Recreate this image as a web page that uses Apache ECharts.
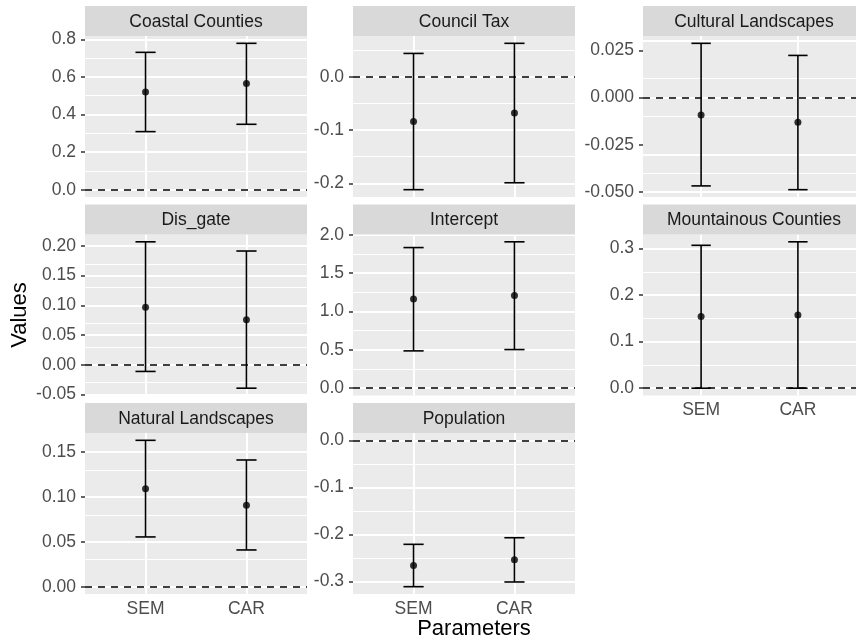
<!DOCTYPE html>
<html>
<head>
<meta charset="utf-8">
<script src="https://cdn.jsdelivr.net/npm/echarts@6/dist/echarts.min.js"></script>
<style>
html,body{margin:0;padding:0;background:#fff;}
#chart{width:856px;height:643px;}
</style>
</head>
<body>
<div id="chart"></div>
<script>
// ---- data ----
const panels = ['Coastal Counties','Council Tax','Cultural Landscapes','Dis_gate','Intercept','Mountainous Counties','Natural Landscapes','Population'];
const models = ['SEM','CAR'];
const semEst  = [0.520, -0.084, -0.0092, 0.097, 1.163, 0.154, 0.109, -0.266];
const semLow  = [0.309, -0.212, -0.0467, -0.0113, 0.486, 0.000, 0.0554, -0.311];
const semHigh = [0.731, 0.044, 0.0287, 0.207, 1.832, 0.307, 0.163, -0.221];
const carEst  = [0.565, -0.068, -0.0131, 0.0757, 1.207, 0.157, 0.0908, -0.254];
const carLow  = [0.348, -0.199, -0.0487, -0.0395, 0.503, 0.000, 0.0409, -0.301];
const carHigh = [0.779, 0.063, 0.0223, 0.1915, 1.907, 0.3145, 0.1411, -0.207];
const yTickValues = [
  [0, 0.2, 0.4, 0.6, 0.8],
  [-0.2, -0.1, 0],
  [-0.05, -0.025, 0, 0.025],
  [-0.05, 0, 0.05, 0.10, 0.15, 0.20],
  [0, 0.5, 1.0, 1.5, 2.0],
  [0, 0.1, 0.2, 0.3],
  [0, 0.05, 0.10, 0.15],
  [-0.3, -0.2, -0.1, 0]
];
const yTickLabels = [
  ['0.0','0.2','0.4','0.6','0.8'],
  ['-0.2','-0.1','0.0'],
  ['-0.050','-0.025','0.000','0.025'],
  ['-0.05','0.00','0.05','0.10','0.15','0.20'],
  ['0.0','0.5','1.0','1.5','2.0'],
  ['0.0','0.1','0.2','0.3'],
  ['0.00','0.05','0.10','0.15'],
  ['-0.3','-0.2','-0.1','0.0']
];
const xTitle = 'Parameters';
const yTitle = 'Values';

// ---- layout ----
const colLeft = [85, 353, 643];
const panelW = 222;
const stripTop = [6, 204.5, 403];
const stripH = 30;
const plotH = 161;
const FONT = 'Liberation Sans, Arial, sans-serif';
const tickFont = 17.5;

const grids = [], xAxes = [], yAxes = [], series = [], graphics = [];

panels.forEach((name, i) => {
  const col = i % 3, row = Math.floor(i / 3);
  const left = colLeft[col], top = stripTop[row] + stripH;
  grids.push({left: left, top: top, width: panelW, height: plotH, show: true,
    backgroundColor: '#EBEBEB', borderWidth: 0, containLabel: false});
  const lows = [semLow[i], carLow[i]], highs = [semHigh[i], carHigh[i]];
  let lo = Math.min(0, ...lows), hi = Math.max(0, ...highs);
  const pad = (hi - lo) * 0.05;
  const ymin = lo - pad, ymax = hi + pad;
  const showX = (row === 2) || (i === 5);
  xAxes.push({type: 'value', gridIndex: i, min: 0.4, max: 2.6,
    splitLine: {show: false}, axisLine: {show: false},
    axisTick: {show: showX, customValues: [1, 2], length: 4, lineStyle: {color: '#333', width: 1.5}},
    axisLabel: {show: showX, customValues: [1, 2], margin: 6,
      formatter: v => models[Math.round(v) - 1] || '',
      fontFamily: FONT, fontSize: tickFont, color: '#4D4D4D'}});
  const tv = yTickValues[i], tl = yTickLabels[i];
  yAxes.push({type: 'value', gridIndex: i, min: ymin, max: ymax,
    splitLine: {show: false}, axisLine: {show: false},
    axisTick: {show: true, customValues: tv, length: 4, lineStyle: {color: '#333', width: 1.5}},
    axisLabel: {show: true, customValues: tv, margin: 9,
      formatter: v => { const k = tv.findIndex(t => Math.abs(t - v) < 1e-9); return k >= 0 ? tl[k] : ''; },
      fontFamily: FONT, fontSize: tickFont, color: '#4D4D4D'}});

  // gridlines
  const step = tv[1] - tv[0];
  const minors = [];
  for (let k = -1; k < tv.length; k++) {
    const m = tv[0] + (k + 0.5) * step;
    if (m > ymin && m < ymax) minors.push(m);
  }
  const gl = [];
  minors.forEach(m => gl.push({yAxis: m, lineStyle: {color: '#fff', width: 1, type: 'solid'}}));
  tv.forEach(t => gl.push({yAxis: t, lineStyle: {color: '#fff', width: 2, type: 'solid'}}));
  [1, 2].forEach(x => gl.push({xAxis: x, lineStyle: {color: '#fff', width: 2, type: 'solid'}}));
  series.push({type: 'line', xAxisIndex: i, yAxisIndex: i, data: [], z: 1, silent: true,
    markLine: {z: 1, silent: true, symbol: ['none', 'none'], label: {show: false}, animation: false,
      emphasis: {disabled: true}, data: gl}});
  // zero line
  series.push({type: 'line', xAxisIndex: i, yAxisIndex: i, data: [], z: 2, silent: true,
    markLine: {z: 2, silent: true, symbol: ['none', 'none'], label: {show: false}, animation: false,
      emphasis: {disabled: true},
      data: [{yAxis: 0, lineStyle: {color: '#000', width: 1.7, type: [7, 6]}}]}});
  // error bars
  series.push({type: 'custom', xAxisIndex: i, yAxisIndex: i, z: 8, silent: true,
    data: [[1, semLow[i], semHigh[i]], [2, carLow[i], carHigh[i]]],
    encode: {x: 0, y: [1, 2]},
    renderItem: (params, api) => {
      const x = api.value(0);
      const pHi = api.coord([x, api.value(2)]);
      const pLo = api.coord([x, api.value(1)]);
      const hw = api.size([0.1, 0])[0];
      const st = {stroke: '#000', lineWidth: 1.6, fill: null};
      return {type: 'group', children: [
        {type: 'line', shape: {x1: pHi[0], y1: pHi[1], x2: pLo[0], y2: pLo[1]}, style: st},
        {type: 'line', shape: {x1: pHi[0] - hw, y1: pHi[1], x2: pHi[0] + hw, y2: pHi[1]}, style: st},
        {type: 'line', shape: {x1: pLo[0] - hw, y1: pLo[1], x2: pLo[0] + hw, y2: pLo[1]}, style: st}
      ]};
    }});
  // points
  series.push({type: 'scatter', xAxisIndex: i, yAxisIndex: i, z: 9, silent: true,
    symbolSize: 7, itemStyle: {color: '#000'},
    data: [[1, semEst[i]], [2, carEst[i]]]});

  // strip
  graphics.push({type: 'rect', left: left, top: stripTop[row], z: 10,
    shape: {width: panelW, height: stripH}, style: {fill: '#D9D9D9'}});
  graphics.push({type: 'text', x: left + panelW / 2, y: stripTop[row] + stripH / 2 + 1, z: 11,
    style: {text: name, font: tickFont + 'px ' + FONT, fill: '#1A1A1A',
      textAlign: 'center', textVerticalAlign: 'middle', align: 'center', verticalAlign: 'middle'}});
});

graphics.push({type: 'text', x: 20, y: 315, rotation: Math.PI / 2, z: 11,
  style: {text: yTitle, font: '22px ' + FONT, fill: '#000',
    textAlign: 'center', textVerticalAlign: 'middle', align: 'center', verticalAlign: 'middle'}});
graphics.push({type: 'text', x: 474, y: 629, z: 11,
  style: {text: xTitle, font: '22px ' + FONT, fill: '#000',
    textAlign: 'center', textVerticalAlign: 'middle', align: 'center', verticalAlign: 'middle'}});

const chart = echarts.init(document.getElementById('chart'), null, {renderer: 'canvas'});
chart.setOption({
  animation: false,
  backgroundColor: '#fff',
  grid: grids, xAxis: xAxes, yAxis: yAxes, series: series, graphic: graphics
});
</script>
</body>
</html>
